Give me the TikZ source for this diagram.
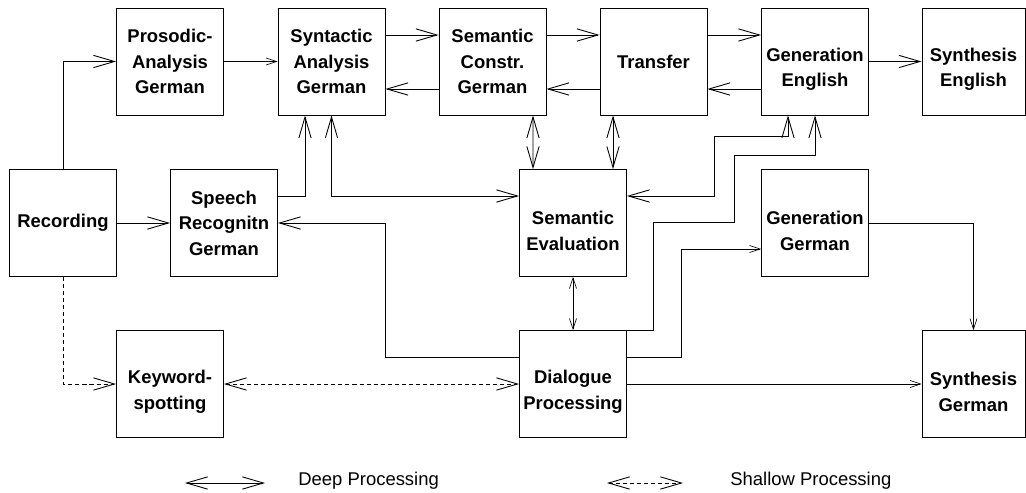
\documentclass[tikz,border=0pt]{standalone}
\usepackage{fontspec}
\setmainfont{Liberation Sans}
\usetikzlibrary{arrows.meta}

% extra room above the first line of a two-line box
\newcommand{\topgap}{\rule{0pt}{16.6pt}}

\begin{document}
\begin{tikzpicture}[>={Straight Barb[length=12pt,width=7pt]},
		box/.style={draw,line width=0.5pt,minimum width=2.14cm,minimum height=2.14cm,inner sep=1pt,align=center,font=\fontsize{10.5}{14.5}\selectfont\bfseries},
		conn/.style={line width=0.5pt},
		fine/.style={line width=0.35pt},
		shallow/.style={line width=0.5pt,dash pattern=on 2.3pt off 1.7pt},
		keytext/.style={anchor=base west,inner sep=0pt,font=\fontsize{10.5}{12}\selectfont}]
			\useasboundingbox (0,0) rectangle (20.52,9.84);
			
			% top row
			\node[box] (Pros) at (3.40,8.61) {Prosodic-\\Analysis\\German};
			\node[box] (Syn) at (6.63,8.61) {Syntactic\\Analysis\\German};
			\node[box] (SemC) at (9.85,8.61) {Semantic\\Constr.\\German};
			\node[box] (Trans) at (13.07,8.61) {Transfer};
			\node[box] (GenE) at (16.30,8.61) {\topgap Generation\\English};
			\node[box,minimum width=2.06cm] (SynE) at (19.47,8.61) {\topgap Synthesis\\English};
			
			% middle row
			\node[box] (Rec) at (1.26,5.38) {Recording};
			\node[box] (Speech) at (4.48,5.38) {Speech\\Recognitn\\German};
			\node[box] (SemEv) at (11.46,5.38) {\topgap Semantic\\Evaluation};
			\node[box] (GenG) at (16.30,5.38) {\topgap Generation\\German};
			
			% bottom row
			\node[box] (Kw) at (3.40,2.16) {\topgap Keyword-\\spotting};
			\node[box] (Dia) at (11.46,2.16) {\topgap Dialogue\\Processing};
			\node[box,minimum width=2.06cm] (SynG) at (19.47,2.16) {\topgap Synthesis\\German};
			
			% deep processing
			\draw[conn,->] (Rec.north) |- (Pros.west);
			\draw[conn,->] (Rec.east) -- (Speech.west);
			\draw[conn,->] ([yshift=0.54cm]Speech.east) -| ([xshift=-0.53cm]Syn.south);
			\draw[conn,->] ([yshift=0.53cm]Syn.east) -- ([yshift=0.53cm]SemC.west);
			\draw[conn,->] ([yshift=-0.55cm]SemC.west) -- ([yshift=-0.55cm]Syn.east);
			\draw[conn,->] ([yshift=0.53cm]SemC.east) -- ([yshift=0.53cm]Trans.west);
			\draw[conn,->] ([yshift=-0.55cm]Trans.west) -- ([yshift=-0.55cm]SemC.east);
			\draw[conn,->] ([yshift=0.53cm]Trans.east) -- ([yshift=0.53cm]GenE.west);
			\draw[conn,->] ([yshift=-0.55cm]GenE.west) -- ([yshift=-0.55cm]Trans.east);
			\draw[conn,->] (GenE.east) -- (SynE.west);
			\draw[conn,<->] (Syn.south) |- ([yshift=0.54cm]SemEv.west);
			\draw[conn,<->] ([xshift=0.81cm]SemC.south) -- ([xshift=-0.80cm]SemEv.north);
			\draw[conn,<->] ([xshift=-0.81cm]Trans.south) -- ([xshift=0.80cm]SemEv.north);
			\draw[conn,<->] ([yshift=0.54cm]SemEv.east) -| (14.28,7.12) -| ([xshift=-0.54cm]GenE.south);
			\draw[conn,->] (Dia.north east) -| (13.06,5.40) -| (14.68,6.74) -| (GenE.south);
			\draw[conn,->] ([yshift=0.54cm]Dia.west) -- ++(-2.68,0) |- (Speech.east);
			
			% thin links
			\draw[fine,-{Straight Barb[length=6pt,width=4pt]}] (Pros.east) -- (Syn.west);
			\draw[fine,{Straight Barb[length=6pt,width=4pt]}-{Straight Barb[length=6pt,width=4pt]}] (SemEv.south) -- (Dia.north);
			\draw[fine,-{Straight Barb[length=6pt,width=4pt]}] ([yshift=0.54cm]Dia.east) -- ++(1.08,0) |- ([yshift=-0.52cm]GenG.west);
			\draw[fine,-{Straight Barb[length=6pt,width=4pt]}] (Dia.east) -- (SynG.west);
			\draw[fine,-{Straight Barb[length=6pt,width=4pt]}] (GenG.east) -| (SynG.north);
			
			% shallow processing
			\draw[shallow,->] (Rec.south) |- (Kw.west);
			\draw[shallow,<->] (Kw.east) -- (Dia.west);
			
			% key
			\coordinate (deepL) at (3.70,0.18);
			\coordinate (deepR) at (5.30,0.18);
			\coordinate (shalL) at (12.14,0.18);
			\coordinate (shalR) at (13.66,0.18);
			\draw[conn,<->] (deepL) -- (deepR);
			\draw[shallow,<->] (shalL) -- (shalR);
			\node[keytext] (deepTxt) at (5.96,0.14) {Deep Processing};
			\node[keytext] (shalTxt) at (14.60,0.14) {Shallow Processing};
		\end{tikzpicture}
\end{document}
